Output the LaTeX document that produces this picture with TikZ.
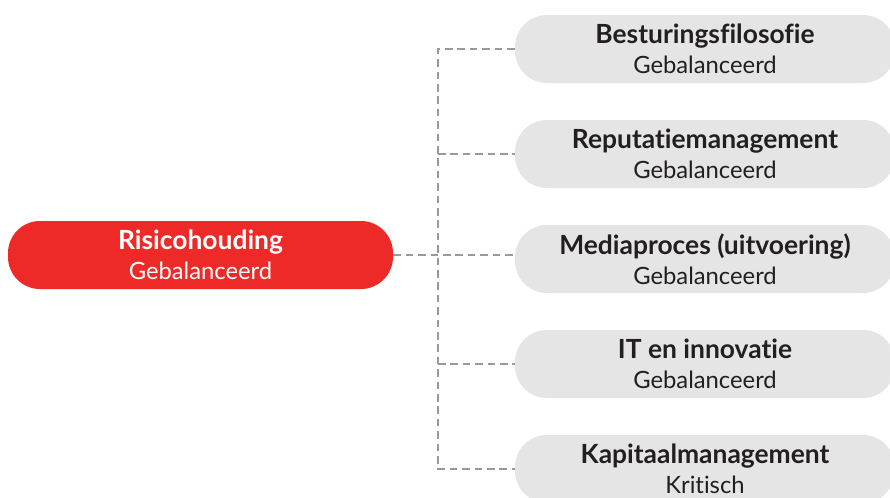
\documentclass[tikz,border=0pt]{standalone}
\usepackage{fontspec}
\setmainfont[Ligatures=NoCommon]{Lato}
\usepackage{tikz}
\usetikzlibrary{calc}
\definecolor{riskred}{HTML}{EE2A29}
\definecolor{pillgrey}{HTML}{E5E5E5}
\definecolor{linegrey}{HTML}{999999}
\definecolor{textblack}{HTML}{231F20}
\newcommand{\pilltitle}[1]{{\fontsize{13.2}{15}\selectfont\bfseries #1}}

\begin{document}
\begin{tikzpicture}[x=0.5pt, y=-0.5pt,
		pill/.style={rounded corners=16pt, minimum height=34pt, align=center,
			inner sep=0pt, font=\fontsize{11.9}{15}\selectfont},
		riskpill/.style={pill, fill=riskred, text=white, minimum width=192.5pt},
		areapill/.style={pill, fill=pillgrey, text=textblack, minimum width=190pt},
		conn/.style={draw=linegrey, line width=1.2pt, dash pattern=on 3.8pt off 2.4pt}]
			%%%%% START %%%%%
			
			\useasboundingbox (0, 0) rectangle (890, 498);
			
			\node[riskpill] (risico) at (200.5, 255) {\pilltitle{Risicohouding}\\Gebalanceerd};
			
			\node[areapill] (besturing) at (705, 49) {\pilltitle{Besturingsfilosofie}\\Gebalanceerd};
			\node[areapill] (reputatie) at (705, 154) {\pilltitle{Reputatiemanagement}\\Gebalanceerd};
			\node[areapill] (media) at (705, 259) {\pilltitle{Mediaproces (uitvoering)}\\Gebalanceerd};
			\node[areapill] (innovatie) at (705, 364) {\pilltitle{IT en innovatie}\\Gebalanceerd};
			\node[areapill] (kapitaal) at (705, 469) {\pilltitle{Kapitaalmanagement}\\Kritisch};
			
			\coordinate (bus) at (438, 0);
			
			\draw[conn] (risico.east) -- (risico.east -| media.west);
			\draw[conn] (besturing.west) -- (bus |- besturing.west) -- (bus |- kapitaal.west) -- (kapitaal.west);
			\draw[conn] (bus |- reputatie.west) -- (reputatie.west);
			\draw[conn] (bus |- innovatie.west) -- (innovatie.west);
			
			%%%%% END %%%%%
\end{tikzpicture}
\end{document}
